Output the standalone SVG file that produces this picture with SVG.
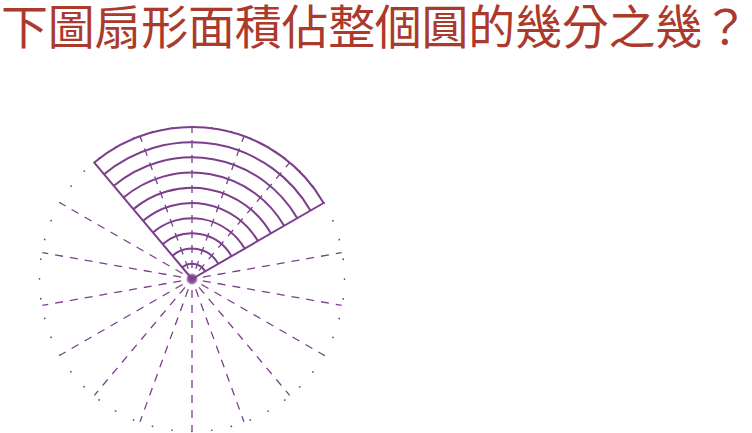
<svg xmlns="http://www.w3.org/2000/svg" xmlns:xlink="http://www.w3.org/1999/xlink" width="752" height="433" viewBox="0 0 752 433">
<style>
.title{font-family:"Noto Sans CJK TC","Noto Sans CJK SC",sans-serif;font-size:47px;fill:#ac3a2c}
.solid{fill:none;stroke:#7b3f8c;stroke-width:2}
.ray{stroke:#7b3f8c;stroke-width:1.3;stroke-dasharray:8 7;stroke-dashoffset:4;fill:none}
.star{stroke:#8a4a9a;stroke-width:0.7;fill:none}
.dots{fill:none;stroke:#5a4a5e;stroke-width:1.6;stroke-linecap:round;stroke-dasharray:0.01 0.99}
</style>
<defs>
<line id="r" class="ray" x1="192" y1="279" x2="344" y2="279"/>
</defs>
<rect width="752" height="433" fill="#ffffff"/>
<text class="title" x="1" y="44" textLength="748" lengthAdjust="spacing">下圖扇形面積佔整個圓的幾分之幾？</text>
<g id="circle">
<circle class="dots" cx="192" cy="279" r="152.5" pathLength="48"/>
</g>
<g id="rays">
<use xlink:href="#r" transform="rotate(-10 192 279)"/>
<use xlink:href="#r" transform="rotate(-50 192 279)"/>
<use xlink:href="#r" transform="rotate(-70 192 279)"/>
<use xlink:href="#r" transform="rotate(-90 192 279)"/>
<use xlink:href="#r" transform="rotate(-110 192 279)"/>
<use xlink:href="#r" transform="rotate(-150 192 279)"/>
<use xlink:href="#r" transform="rotate(-170 192 279)"/>
<use xlink:href="#r" transform="rotate(-190 192 279)"/>
<use xlink:href="#r" transform="rotate(-210 192 279)"/>
<use xlink:href="#r" transform="rotate(-230 192 279)"/>
<use xlink:href="#r" transform="rotate(-250 192 279)"/>
<use xlink:href="#r" transform="rotate(-270 192 279)"/>
<use xlink:href="#r" transform="rotate(-290 192 279)"/>
<use xlink:href="#r" transform="rotate(-310 192 279)"/>
<use xlink:href="#r" transform="rotate(-330 192 279)"/>
<use xlink:href="#r" transform="rotate(-350 192 279)"/>
</g>
<g id="star">
<path class="star" d="M186.5 279H197.5M192 273.5V284.5M186.58 278.04L197.42 279.96M186.83 277.12L197.17 280.88M187.24 276.25L196.76 281.75M187.79 275.46L196.21 282.54M188.46 274.79L195.54 283.21M189.25 274.24L194.75 283.76M190.12 273.83L193.88 284.17M191.04 273.58L192.96 284.42M192.96 273.58L191.04 284.42M193.88 273.83L190.12 284.17M194.75 274.24L189.25 283.76M195.54 274.79L188.46 283.21M196.21 275.46L187.79 282.54M196.76 276.25L187.24 281.75M197.17 277.12L186.83 280.88M197.42 278.04L186.58 279.96"/>
</g>
<g id="sector">
<path class="solid" d="M192 279L94.29 162.57A152 152 0 0 1 323.63 203Z"/>
<path class="solid" d="M182.23 267.36A15.2 15.2 0 0 1 205.16 271.4M172.46 255.71A30.4 30.4 0 0 1 218.33 263.8M162.69 244.07A45.6 45.6 0 0 1 231.49 256.2M152.92 232.43A60.8 60.8 0 0 1 244.65 248.6M143.15 220.78A76 76 0 0 1 257.82 241M133.38 209.14A91.2 91.2 0 0 1 270.98 233.4M123.61 197.5A106.4 106.4 0 0 1 284.14 225.8M113.84 185.85A121.6 121.6 0 0 1 297.31 218.2M104.07 174.21A136.8 136.8 0 0 1 310.47 210.6"/>
</g>
</svg>
